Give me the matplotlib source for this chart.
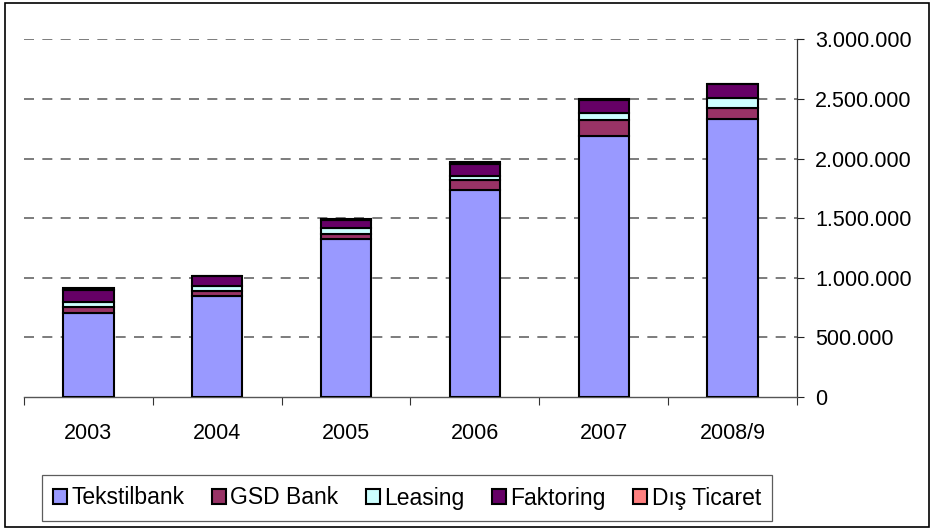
import matplotlib
matplotlib.use("Agg")
import matplotlib.pyplot as plt
from matplotlib.patches import Rectangle
from matplotlib.ticker import FuncFormatter, FixedLocator
import numpy as np

plt.rcParams['font.family'] = ['Liberation Sans', 'DejaVu Sans']

categories = ["2003", "2004", "2005", "2006", "2007", "2008/9"]
tekstilbank = [705000, 848000, 1322000, 1732000, 2192000, 2333000]
gsd_bank = [50000, 45000, 47000, 85000, 128000, 95000]
leasing = [45000, 35000, 50000, 40000, 63000, 80000]
faktoring = [97000, 85000, 68000, 98000, 112000, 120000]
dis_ticaret = [15000, 2000, 2000, 20000, 2000, 1000]

series = [
    ("Tekstilbank", tekstilbank, "#9999FF"),
    ("GSD Bank", gsd_bank, "#993366"),
    ("Leasing", leasing, "#CCFFFF"),
    ("Faktoring", faktoring, "#660066"),
    ("Dış Ticaret", dis_ticaret, "#FF8080"),
]

fig = plt.figure(figsize=(9.35, 5.29), dpi=100)
W, H = 935, 529
ax = fig.add_axes([24 / W, 1 - 397 / H, (797 - 24) / W, (397 - 39.3) / H])

x = np.arange(len(categories))
bottom = np.zeros(len(categories))
handles = []
for name, vals, col in series:
    b = ax.bar(x, vals, width=0.39, bottom=bottom, color=col, edgecolor="black",
               linewidth=1.5, label=name, zorder=3)
    bottom += np.array(vals)
    handles.append(b)

ax.set_xlim(-0.5, len(categories) - 0.5)
ax.set_ylim(0, 3000000)
yt = np.arange(0, 3000001, 500000)
ax.set_yticks(yt)
ax.yaxis.tick_right()
ax.yaxis.set_major_formatter(FuncFormatter(lambda v, p: f"{int(v):,}".replace(",", ".")))
ax.tick_params(axis="y", direction="out", length=5, width=0.8, labelsize=15.5, pad=8, color="#222222")
for v in yt[1:]:
    ax.axhline(v, color="#666666", linestyle=(0, (6, 5)), linewidth=1.2, zorder=1)

ax.set_xticks(x)
ax.set_xticklabels(categories)
ax.xaxis.set_minor_locator(FixedLocator(np.arange(-0.5, len(categories), 1.0)))
ax.tick_params(axis="x", which="major", length=0, labelsize=15.5, pad=19)
ax.tick_params(axis="x", which="minor", direction="out", length=6, width=0.8, color="#333333")

for s in ["top", "left"]:
    ax.spines[s].set_visible(False)
ax.spines["right"].set_color("#333333")
ax.spines["bottom"].set_color("#555555")
ax.spines["right"].set_linewidth(0.9)
ax.spines["bottom"].set_linewidth(1.0)

leg = fig.legend(handles=handles, labels=[s[0] for s in series], loc="center",
                 bbox_to_anchor=((40 + 774) / 2 / W, 1 - 498 / H), ncol=5,
                 frameon=True, fancybox=False, edgecolor="#333333", fontsize=16.5,
                 handlelength=0.6, handleheight=0.6, handletextpad=0.2,
                 columnspacing=1.2, borderpad=0.5, borderaxespad=0)
leg.get_frame().set_linewidth(0.9)

fig.patches.append(Rectangle((5 / W, 2 / H), (929 - 5) / W, (526 - 2) / H,
                             transform=fig.transFigure, fill=False,
                             edgecolor="black", linewidth=1.2))

fig.savefig("out.png", dpi=100)
